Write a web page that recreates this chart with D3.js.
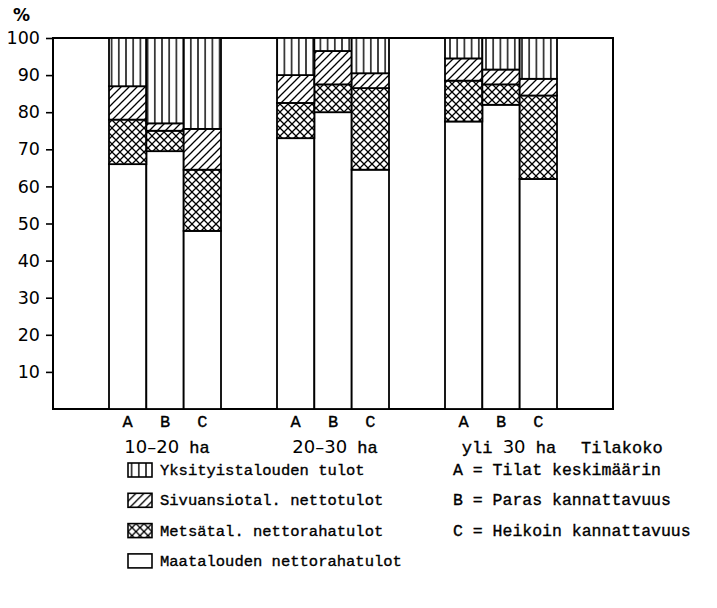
<!DOCTYPE html>
<html><head><meta charset="utf-8">
<script src="https://cdn.jsdelivr.net/npm/d3@7"></script>
<style>body{margin:0;background:#fff}svg{display:block}</style>
</head><body>
<svg id="c" width="717" height="608"></svg>
<script>
// ---- data ----
const groups = ["10–20 ha", "20–30 ha", "yli 30 ha"];
const farms = ["A", "B", "C"];
const seriesKeys = ["maat", "mets", "siv", "yks"];
const seriesNames = ["Maatalouden nettorahatulot", "Metsätal. nettorahatulot", "Sivuansiotal. nettotulot", "Yksityistalouden tulot"];
// segment values (%) for bars in order 10–20 A,B,C, 20–30 A,B,C, yli 30 A,B,C
const maat = [66, 69.5, 48, 73, 80, 64.5, 77.5, 82, 62];
const mets = [12, 5.5, 16.5, 9.5, 7.5, 22, 11, 5.5, 22.5];
const siv  = [9, 2, 11, 7.5, 9, 4, 6, 4, 4.5];
const yks  = [13, 23, 24.5, 10, 3.5, 9.5, 5.5, 8.5, 11];
const yTicks = [10, 20, 30, 40, 50, 60, 70, 80, 90, 100];
const keyLabels = ["A = Tilat keskimäärin", "B = Paras kannattavuus", "C = Heikoin kannattavuus"];
const xTitle = "Tilakoko";
const yTitle = "%";

// ---- build table ----
const rows = [];
groups.forEach((g, gi) => farms.forEach((f, fi) => {
  const i = gi * 3 + fi;
  rows.push({group: g, farm: f, maat: maat[i], mets: mets[i], siv: siv[i], yks: yks[i]});
}));

const svg = d3.select("#c");
const mono = "'Liberation Mono', monospace";
const sans = "'DejaVu Sans', sans-serif";
const ink = sel => sel.attr("fill", "#000").attr("stroke", "#000").attr("stroke-width", 0.35);

// patterns
const defs = svg.append("defs");
const pV = defs.append("pattern").attr("id", "pv").attr("patternUnits", "userSpaceOnUse").attr("width", 7.2).attr("height", 10);
pV.append("rect").attr("width", 7.2).attr("height", 10).attr("fill", "#fff");
pV.append("line").attr("x1", 3.6).attr("x2", 3.6).attr("y1", 0).attr("y2", 10).attr("stroke", "#000").attr("stroke-width", 1.4);
const pD = defs.append("pattern").attr("id", "pd").attr("patternUnits", "userSpaceOnUse").attr("width", 8).attr("height", 8);
pD.append("rect").attr("width", 8).attr("height", 8).attr("fill", "#fff");
pD.append("path").attr("d", "M-2,10 L10,-2 M-2,2 L2,-2 M6,10 L10,6").attr("stroke", "#000").attr("stroke-width", 1.3);
const pX = defs.append("pattern").attr("id", "px").attr("patternUnits", "userSpaceOnUse").attr("width", 8).attr("height", 8);
pX.append("rect").attr("width", 8).attr("height", 8).attr("fill", "#fff");
pX.append("path").attr("d", "M-1,-1 L9,9 M-1,9 L9,-1").attr("stroke", "#000").attr("stroke-width", 1.3);
const fills = {maat: "#fff", mets: "url(#px)", siv: "url(#pd)", yks: "url(#pv)"};

// scales
const x0 = d3.scaleBand().domain(groups).range([53, 613]).paddingInner(1/3).paddingOuter(1/3);
const x1 = d3.scaleBand().domain(farms).range([0, x0.bandwidth()]).padding(0);
const y = d3.scaleLinear().domain([0, 100]).range([409, 38]);

// frame
svg.append("rect").attr("x", x0.range()[0]).attr("y", y(100)).attr("width", x0.range()[1] - x0.range()[0]).attr("height", y(0) - y(100))
  .attr("fill", "#fff").attr("stroke", "#000").attr("stroke-width", 2);

// bars
const stack = d3.stack().keys(seriesKeys)(rows);
stack.forEach(layer => {
  svg.append("g").selectAll("rect").data(layer).join("rect")
    .attr("x", d => x0(d.data.group) + x1(d.data.farm))
    .attr("width", x1.bandwidth())
    .attr("y", d => y(d[1]))
    .attr("height", d => y(d[0]) - y(d[1]))
    .attr("fill", fills[layer.key])
    .attr("stroke", "#000").attr("stroke-width", 1.8);
});

// axis
const ax = svg.append("g").attr("transform", `translate(${x0.range()[0]},0)`)
  .call(d3.axisLeft(y).tickValues(yTicks).tickSize(7).tickPadding(6));
ax.select(".domain").remove();
ax.selectAll(".tick line").attr("stroke-width", 1.6);
ax.selectAll("text").attr("font-family", sans).attr("font-size", 17.5).attr("fill", "#000");
svg.append("text").attr("x", 13).attr("y", 21).attr("font-family", sans).attr("font-size", 17).attr("font-weight", "bold").text(yTitle);

// farm letters
svg.append("g").selectAll("text").data(rows).join("text")
  .attr("x", d => x0(d.group) + x1(d.farm) + x1.bandwidth() / 2)
  .attr("y", 427).attr("text-anchor", "middle")
  .attr("font-family", mono).attr("font-size", 17).call(ink).text(d => d.farm);

// group labels: digits sans, letters typewriter
const gl = svg.append("g").selectAll("text").data(groups).join("text")
  .attr("x", d => x0(d) + x0.bandwidth() / 2 + (d.startsWith("yli") ? 8 : 2))
  .attr("y", 453).attr("text-anchor", "middle").attr("font-size", 17);
gl.each(function(d) {
  const t = d3.select(this);
  d.split(/(\s+)/).forEach(part => {
    if (!part) return;
    const isNum = /[0-9]/.test(part);
    t.append("tspan").attr("font-family", isNum ? sans : mono).attr("font-size", isNum ? 18 : 17)
      .attr("stroke", isNum ? "none" : "#000").attr("stroke-width", 0.35).text(part);
  });
});
svg.append("text").attr("x", 581).attr("y", 453).attr("font-family", mono).attr("font-size", 17).call(ink).text(xTitle);

// legend
const legOrder = [3, 2, 1, 0];
const leg = svg.append("g").selectAll("g").data(legOrder).join("g")
  .attr("transform", (d, i) => `translate(128,${463 + i * 30.3})`);
leg.append("rect").attr("width", 24).attr("height", 14).attr("fill", d => fills[seriesKeys[d]]).attr("stroke", "#000").attr("stroke-width", 1.6);
leg.append("text").attr("x", 32).attr("y", 12).attr("font-family", mono).attr("font-size", 15.5).call(ink).text(d => seriesNames[d]);

svg.append("g").selectAll("text").data(keyLabels).join("text")
  .attr("x", 453).attr("y", (d, i) => 475 + i * 30.3)
  .attr("font-family", mono).attr("font-size", 16.5).call(ink).text(d => d);
</script>
</body></html>
